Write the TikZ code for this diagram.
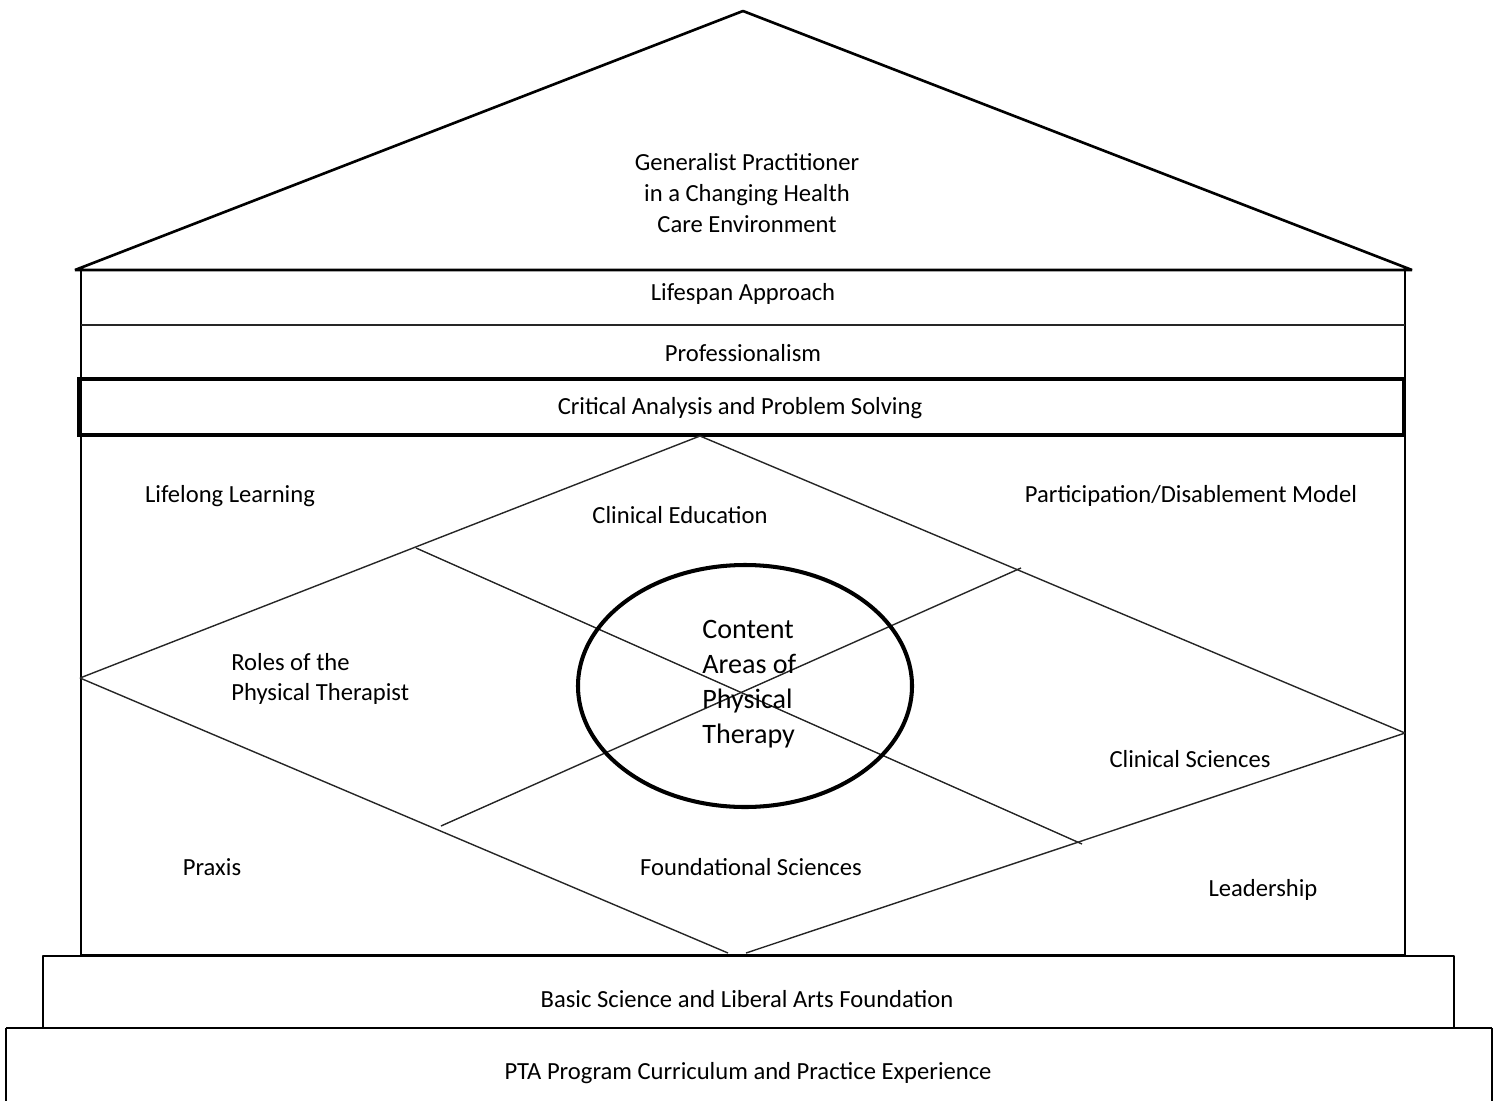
\documentclass[tikz,border=0pt]{standalone}
\usepackage{fontspec}
\setmainfont{Carlito}
\usetikzlibrary{shapes.geometric}

\begin{document}
\begin{tikzpicture}[
	x=0.2mm,
	y=-0.2mm,
	label/.style={
		align=center,
		inner sep=0pt,
		font=\fontsize{14}{17.5}\selectfont
	},
	core/.style={
		ellipse,
		draw=black,
		line width=2.3pt,
		inner sep=0pt,
		minimum width=66.8mm,
		minimum height=48.4mm
	},
	wall/.style={
		draw=black,
		line width=1.5pt,
		line join=bevel
	},
	thin/.style={
		draw=black!85,
		line width=0.8pt
	},
]

\useasboundingbox (0,0) rectangle (1501,1101);

\coordinate (apex) at (743,11);
\coordinate (eaveL) at (75,270);
\coordinate (eaveR) at (1412,270);

\coordinate (dtop) at (700,436);
\coordinate (dleft) at (80,678);
\coordinate (dbotL) at (728,953);
\coordinate (dbotR) at (746,953);
\coordinate (dright) at (1405,733);

\coordinate (crossA) at (416,548);
\coordinate (crossB) at (1082,844);
\coordinate (crossC) at (441,826);
\coordinate (crossD) at (1021,568);

\draw[wall] (eaveL) -- (apex) -- (eaveR) -- cycle;
\draw[wall] (81,270) rectangle (1405,955);
\draw[thin] (81,325) -- (1405,325);
\draw[black, line width=1.9pt] (79,379) rectangle (1404,435);

\draw[thin] (dtop) -- (dleft);
\draw[thin] (dleft) -- (dbotL);
\draw[thin] (dbotR) -- (dright);
\draw[thin] (dright) -- (dtop);

\draw[thin] (crossA) -- (crossB);
\draw[thin] (crossC) -- (crossD);

\draw[wall] (43,956) rectangle (1454,1028);
\draw[wall] (6,1028) -- (6,1110);
\draw[wall] (1492,1028) -- (1492,1110);
\draw[wall] (6,1028) -- (1492,1028);

\node[core] (circle) at (745,686) {};
\node[label, align=left, anchor=west, font=\fontsize{16}{20}\selectfont] (content) at (702,684) {Content\\Areas of\\Physical\\Therapy};

\node[label] (roof) at (747,193) {Generalist Practitioner\\in a Changing Health\\Care Environment};
\node[label] (lifespan) at (743,294) {Lifespan Approach};
\node[label] (prof) at (743,353) {Professionalism};
\node[label] (critical) at (740,408) {Critical Analysis and Problem Solving};

\node[label] (lifelong) at (230,496) {Lifelong Learning};
\node[label] (clined) at (680,515) {Clinical Education};
\node[label] (particip) at (1191,496) {Participation/Disablement Model};
\node[label, align=left, anchor=west] (roles) at (231,679) {Roles of the\\Physical Therapist};
\node[label] (clinsci) at (1190,759) {Clinical Sciences};
\node[label] (praxis) at (212,867) {Praxis};
\node[label] (foundsci) at (751,867) {Foundational Sciences};
\node[label] (leader) at (1263,890) {Leadership};

\node[label] (basic) at (747,999) {Basic Science and Liberal Arts Foundation};
\node[label] (pta) at (748,1073) {PTA Program Curriculum and Practice Experience};

\end{tikzpicture}
\end{document}
